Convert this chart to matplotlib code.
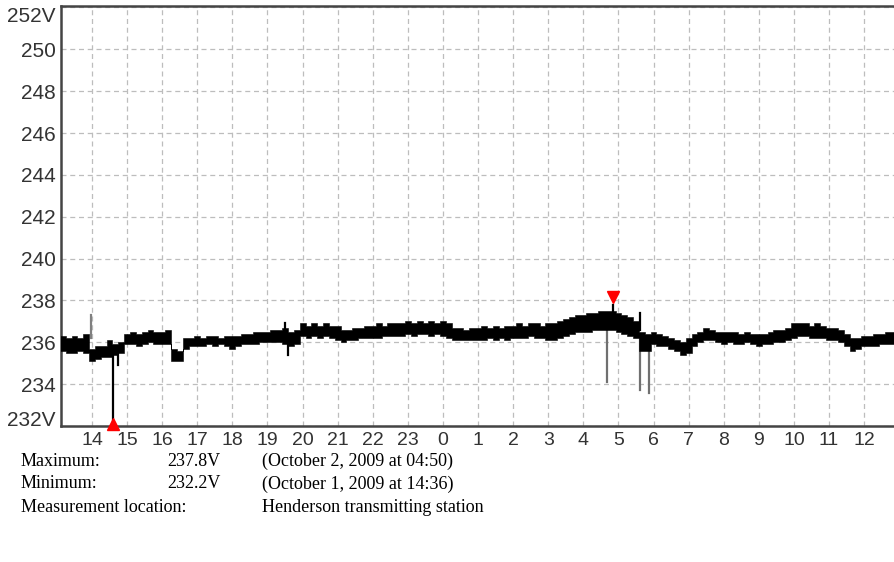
import numpy as np
import matplotlib.pyplot as plt

# voltage log, 10 minute bins from 13:00 (Oct 1) to 13:00 (Oct 2); hours past midnight Oct 1
t0, step = 13.0, 1 / 6
v_hi = [236.2, 236.3, 236.2, 236.3, 236.2, 236.4,   # 13
        235.7, 235.8, 235.8, 236.1, 235.9, 236.0,   # 14
        236.4, 236.5, 236.4, 236.5, 236.6, 236.5,   # 15
        236.5, 236.6, 235.7, 235.6, 236.2, 236.2,   # 16
        236.3, 236.2, 236.3, 236.3, 236.2, 236.3,   # 17
        236.3, 236.3, 236.4, 236.4, 236.5, 236.5,   # 18
        236.5, 236.6, 236.6, 236.7, 236.5, 236.6,   # 19
        236.9, 236.8, 236.9, 236.8, 236.9, 236.8,   # 20
        236.8, 236.6, 236.6, 236.7, 236.7, 236.8,   # 21
        236.8, 236.9, 236.8, 236.9, 236.9, 236.9,   # 22
        237.0, 236.9, 237.0, 236.9, 237.0, 236.9,   # 23
        237.0, 236.9, 236.7, 236.7, 236.6, 236.7,   # 0
        236.7, 236.8, 236.7, 236.8, 236.7, 236.8,   # 1
        236.8, 236.9, 236.8, 236.9, 236.9, 236.8,   # 2
        236.9, 236.9, 237.0, 237.1, 237.2, 237.3,   # 3
        237.3, 237.4, 237.4, 237.5, 237.5, 237.5,   # 4
        237.4, 237.3, 237.2, 237.0, 236.5, 236.4,   # 5
        236.5, 236.4, 236.3, 236.2, 236.1, 236.0,   # 6
        236.2, 236.4, 236.5, 236.7, 236.6, 236.5,   # 7
        236.5, 236.5, 236.5, 236.4, 236.5, 236.4,   # 8
        236.4, 236.4, 236.5, 236.6, 236.6, 236.7,   # 9
        236.9, 236.9, 236.9, 236.8, 236.9, 236.8,   # 10
        236.7, 236.7, 236.6, 236.4, 236.2, 236.2,   # 11
        236.3, 236.3, 236.4, 236.4, 236.5, 236.5,   # 12
        236.5]
v_lo = [235.5, 235.6, 235.5, 235.5, 235.6, 235.5,   # 13
        235.1, 235.2, 235.3, 235.3, 235.4, 235.5,   # 14
        235.9, 235.9, 235.8, 235.9, 236.0, 235.9,   # 15
        235.9, 235.9, 235.1, 235.1, 235.7, 235.8,   # 16
        235.8, 235.8, 235.9, 235.8, 235.9, 235.8,   # 17
        235.7, 235.8, 235.9, 235.9, 235.9, 236.0,   # 18
        236.0, 236.0, 236.0, 235.9, 235.8, 235.9,   # 19
        236.3, 236.2, 236.3, 236.2, 236.3, 236.2,   # 20
        236.1, 236.0, 236.1, 236.1, 236.2, 236.2,   # 21
        236.2, 236.2, 236.3, 236.3, 236.3, 236.3,   # 22
        236.4, 236.3, 236.4, 236.4, 236.3, 236.4,   # 23
        236.3, 236.2, 236.1, 236.1, 236.1, 236.1,   # 0
        236.1, 236.1, 236.2, 236.1, 236.2, 236.1,   # 1
        236.2, 236.2, 236.2, 236.3, 236.2, 236.2,   # 2
        236.1, 236.1, 236.2, 236.3, 236.4, 236.5,   # 3
        236.5, 236.5, 236.6, 236.6, 236.6, 236.6,   # 4
        236.5, 236.4, 236.3, 236.2, 235.6, 235.6,   # 5
        235.9, 235.8, 235.8, 235.7, 235.6, 235.4,   # 6
        235.5, 235.8, 236.0, 236.1, 236.1, 236.0,   # 7
        235.9, 236.0, 235.9, 235.9, 236.0, 235.9,   # 8
        235.8, 235.9, 235.9, 236.0, 236.0, 236.1,   # 9
        236.2, 236.3, 236.3, 236.2, 236.2, 236.2,   # 10
        236.1, 236.1, 236.0, 235.8, 235.6, 235.7,   # 11
        235.8, 235.8, 235.8, 235.9, 235.9, 235.9,   # 12
        235.9]

# short transients (time, base, peak)
spike_t = [13.98, 14.6, 14.75, 19.5, 19.58, 28.67, 28.83, 29.6, 29.6, 29.87]
spike_base = [236.2, 235.6, 235.6, 236.4, 236.0, 236.9, 237.2, 236.6, 236.3, 236.0]
spike_peak = [237.3, 232.2, 234.9, 236.9, 235.4, 234.1, 237.8, 237.4, 233.7, 233.6]
spike_col = ['#808080', 'k', 'k', 'k', 'k', '#707070', 'k', 'k', '#707070', '#707070']

v_max, t_max = 237.8, 28 + 50 / 60
v_min, t_min = 232.2, 14 + 36 / 60

hours = list(range(14, 37))
hour_labels = [str(h % 24) for h in hours]
volt_ticks = list(range(232, 253, 2))
volt_labels = [str(v) for v in volt_ticks]
volt_labels[0] += 'V'
volt_labels[-1] += 'V'

info = [('Maximum:', '237.8V', '(October 2, 2009 at 04:50)'),
        ('Minimum:', '232.2V', '(October 1, 2009 at 14:36)'),
        ('Measurement location:', '', 'Henderson transmitting station')]

t = t0 + step * np.arange(len(v_hi))

fig = plt.figure(figsize=(8.94, 5.62), dpi=100)
ax = fig.add_axes([61 / 894, 1 - 426 / 562, 1 - 61 / 894, 420 / 562])

ax.fill_between(t, v_lo, v_hi, step='mid', color='k', lw=0.4, zorder=3)
for x, b, p, c in zip(spike_t, spike_base, spike_peak, spike_col):
    ax.plot([x, x], [b, p], color=c, lw=1.6, zorder=2)

ax.plot(t_max, v_max + 0.38, 'v', color='red', ms=8, zorder=5)
ax.plot(t_min, 232.1, '^', color='red', ms=8, zorder=5, clip_on=False)

ax.set_xlim(13.117, 36.85)
ax.set_ylim(232, 252.07)
ax.set_xticks(hours)
ax.set_xticklabels(hour_labels)
ax.set_yticks(volt_ticks)
ax.set_yticklabels(volt_labels)

for lab in ax.get_yticklabels():
    lab.set_family('Liberation Sans')
    lab.set_fontsize(15)
for lab in ax.get_xticklabels():
    lab.set_family('Liberation Sans')
    lab.set_fontsize(14)
ax.get_yticklabels()[-1].set_va('top')
ax.get_yticklabels()[0].set_va('baseline')
ax.tick_params(length=0, pad=4, colors='#333333')

ax.grid(True, color='#bdbdbd', ls=(0, (4, 3)), lw=0.9)
for s in ['left', 'top', 'bottom']:
    ax.spines[s].set_color('#444444')
    ax.spines[s].set_linewidth(1.8)
ax.spines['right'].set_visible(False)

for i, (name, val, note) in enumerate(info):
    y = 1 - (461 + 23 * i) / 562
    fig.text(21 / 894, y, name, family='Liberation Serif', fontsize=13, va='center')
    fig.text(167 / 894, y, val, family='Liberation Serif', fontsize=13, va='center')
    fig.text(262 / 894, y, note, family='Liberation Serif', fontsize=13, va='center')

fig.savefig('out.png', dpi=100)
